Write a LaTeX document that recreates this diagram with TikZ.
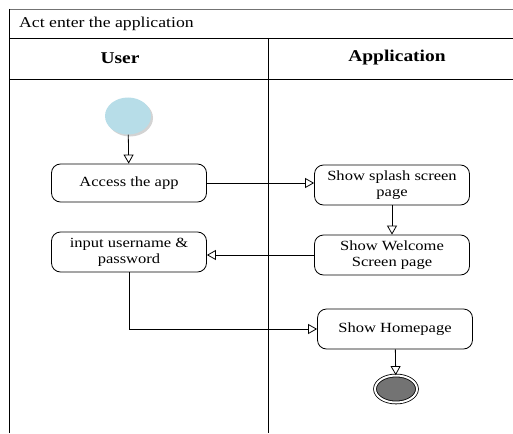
\documentclass[tikz,border=0pt]{standalone}
\usepackage{fontspec}
\setmainfont{Liberation Serif}[FakeStretch=1.18]
\usetikzlibrary{arrows.meta,shadows,shapes.geometric}
\definecolor{startblue}{RGB}{183,221,232}
\tikzset{act/.style={draw,rounded corners=9pt,minimum width=155pt,minimum height=40pt,
        align=center,font=\fontsize{14}{16}\selectfont,line width=0.8pt,inner sep=2pt},
    flow/.style={draw,line width=0.8pt,-{Triangle[open,length=9pt,width=10pt]}},
    lane/.style={draw,line width=0.9pt},
    head/.style={font=\fontsize{16.5}{18}\selectfont\bfseries},
    startnode/.style={ellipse,minimum width=46pt,minimum height=37pt,fill=startblue,
        drop shadow={shadow xshift=2pt,shadow yshift=-2pt,opacity=0.35}},
    endnode/.style={ellipse,draw,double,double distance=2pt,line width=0.8pt,
        minimum width=42pt,minimum height=27pt,fill=black!55}}
\begin{document}
\begin{tikzpicture}[x=1pt,y=-1pt]
\useasboundingbox (0,0) rectangle (513,433);
% swimlanes
\draw[lane,black!55] (9,9) -- (513,9);
\draw[lane] (9,9) -- (9,433);
\draw[lane] (9,38) -- (513,38);
\draw[lane] (9,79) -- (513,79);
\draw[lane] (268,38) -- (268,433);
\node[anchor=base west,inner sep=0pt,font=\fontsize{15}{17}\selectfont] (title) at (19,28) {Act enter the application};
\node[head] (user) at (120,58) {User};
\node[head] (app) at (397,58) {Application};
% activities
\node[startnode] (start) at (128,116) {};
\node[act,minimum height=38pt] (acc) at (129,183) {Access the app};
\node[act] (inp) at (129,252) {input username \&\\password};
\node[act] (splash) at (392,185) {Show splash screen\\page};
\node[act] (wel) at (392,255) {Show Welcome\\Screen page};
\node[act] (home) at (395,329) {Show Homepage};
\node[endnode] (stop) at (396,389) {};
% flows
\draw[flow] (start) -- (acc);
\draw[flow] (acc.east) -- (splash.west |- acc.east);
\draw[flow] (splash) -- (wel);
\draw[flow] (wel.west) -- (inp.east |- wel.west);
\draw[flow] (inp.south) |- (home.west);
\draw[flow] (home) -- (stop);
\end{tikzpicture}
\end{document}
